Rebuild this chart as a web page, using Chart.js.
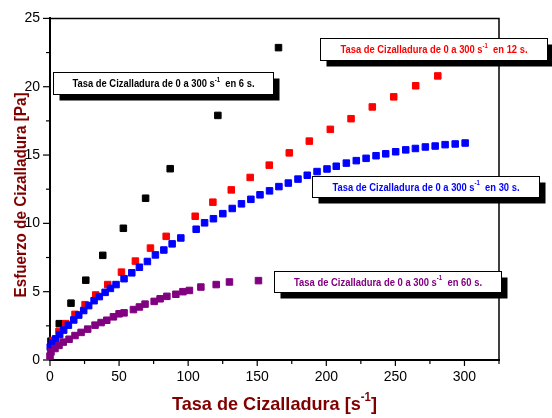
<!DOCTYPE html>
<html>
<head>
<meta charset="utf-8">
<script src="https://cdn.jsdelivr.net/npm/chart.js@4.4.1/dist/chart.umd.min.js"></script>
<style>
  html, body { margin: 0; padding: 0; background: #fff; }
  canvas { display: block; }
</style>
</head>
<body>
<canvas id="myChart" width="552" height="418"></canvas>
<script>
// ==========================================================
// 1. DATA
// ==========================================================
const xTickLabels = [0, 50, 100, 150, 200, 250, 300];
const yTickLabels = [0, 5, 10, 15, 20, 25];

// rampa de 0 a 300 s-1 en 6 s
const ramp6sX = [0.7, 6.7, 15.2, 25.9, 38.2, 53.1, 69.2, 87.0, 121.5, 165.4];
const ramp6sY = [1.38, 2.66, 4.16, 5.84, 7.66, 9.64, 11.84, 14.0, 17.9, 22.86];

// rampa en 12 s
const ramp12sX = [0.5, 2.2, 6.5, 11.4, 18.1, 25.4, 33.1, 41.8, 51.7, 61.8, 72.7, 84.1, 105.1,
  117.9, 131.2, 144.9, 158.7, 173.2, 187.7, 202.9, 217.9, 233.3, 248.8, 264.7, 280.7];
const ramp12sY = [0.9, 1.43, 2.09, 2.66, 3.34, 4.05, 4.76, 5.52, 6.43, 7.24, 8.19, 9.05, 10.52,
  11.55, 12.45, 13.36, 14.26, 15.16, 16.02, 16.88, 17.66, 18.52, 19.26, 20.07, 20.79];

// rampa en 30 s
const ramp30sX = [0.2, 1.7, 4.1, 7.0, 9.9, 13.3, 17.2, 20.8, 24.4, 28.0, 31.9, 35.7, 39.9, 43.7,
  47.8, 53.6, 59.2, 64.7, 70.5, 76.3, 82.4, 88.4, 94.7, 105.8, 111.9, 118.3, 125.1, 131.9,
  138.6, 145.4, 152.0, 158.9, 165.7, 172.5, 179.5, 186.2, 193.3, 200.5, 207.2, 214.5, 221.7,
  228.8, 236.0, 243.0, 250.2, 257.5, 264.5, 271.7, 278.8, 286.0, 293.3, 300.5];
const ramp30sY = [0.95, 1.24, 1.55, 1.86, 2.19, 2.55, 2.93, 3.29, 3.62, 3.98, 4.34, 4.64, 4.95,
  5.24, 5.52, 5.95, 6.38, 6.79, 7.21, 7.69, 8.05, 8.5, 8.93, 9.57, 10.04, 10.34, 10.71, 11.09,
  11.43, 11.76, 12.09, 12.38, 12.69, 12.95, 13.24, 13.52, 13.79, 13.98, 14.18, 14.41, 14.59,
  14.76, 14.95, 15.09, 15.24, 15.38, 15.48, 15.59, 15.66, 15.76, 15.81, 15.88];

// rampa en 60 s
const ramp60sX = [0, 0.7, 3.6, 6.5, 9.6, 13.8, 18.1, 22.5, 27.3, 32.6, 37.0, 41.1, 45.9, 50.0,
  53.6, 60.4, 64.7, 68.8, 75.4, 79.7, 84.6, 91.1, 96.2, 100.9, 109.2, 120.3, 129.9, 150.9];
const ramp60sY = [0.29, 0.59, 0.84, 1.07, 1.31, 1.52, 1.79, 2.02, 2.26, 2.55, 2.74, 2.91, 3.16,
  3.38, 3.45, 3.69, 3.88, 4.09, 4.29, 4.48, 4.66, 4.81, 5.0, 5.09, 5.34, 5.52, 5.71, 5.81];

const rampTimes = ['6', '12', '30', '60'];

// ==========================================================
// 2. HELPERS
// ==========================================================
const FONT = '"Liberation Sans", Arial, sans-serif';
const TITLE_RED = '#800000';

function toPoints(xs, ys) {
  return xs.map((x, i) => ({ x: x, y: ys[i] }));
}

// texto con superindice, comprimido horizontalmente a un ancho dado
function drawRichText(ctx, parts, cx, cy, targetW, color) {
  ctx.save();
  ctx.fillStyle = color;
  ctx.textBaseline = 'middle';
  ctx.textAlign = 'left';
  let total = 0;
  parts.forEach(p => { ctx.font = p.font; p.w = ctx.measureText(p.text).width; total += p.w; });
  ctx.translate(cx, cy);
  ctx.scale(targetW / total, 1);
  let x = -total / 2;
  parts.forEach(p => {
    ctx.font = p.font;
    ctx.fillText(p.text, x, p.rise || 0);
    x += p.w;
  });
  ctx.restore();
}

function boxParts(time) {
  return [
    { text: 'Tasa de Cizalladura de 0 a 300 s', font: 'bold 11px ' + FONT },
    { text: '-1', font: 'bold 7px ' + FONT, rise: -4 },
    { text: '  en ' + time + ' s.', font: 'bold 11px ' + FONT }
  ];
}

// ==========================================================
// 3. PLUGINS (marco, marcas de ejes, titulos, cuadros)
// ==========================================================
const framePlugin = {
  id: 'frame',
  beforeDatasetsDraw(chart) {
    const { ctx, chartArea: a, scales: { x, y } } = chart;
    ctx.save();
    ctx.strokeStyle = '#000';
    ctx.lineWidth = 1.5;
    ctx.beginPath();
    ctx.moveTo(a.left, a.top);
    ctx.lineTo(a.right, a.top);
    ctx.lineTo(a.right, a.bottom);
    ctx.stroke();

    ctx.lineWidth = 1.2;
    x.ticks.forEach(t => {
      const px = x.getPixelForValue(t.value);
      const len = xTickLabels.includes(t.value) ? 6 : 4;
      ctx.beginPath();
      ctx.moveTo(px, a.bottom);
      ctx.lineTo(px, a.bottom + len);
      ctx.stroke();
    });
    y.ticks.forEach(t => {
      const py = y.getPixelForValue(t.value);
      const len = yTickLabels.includes(t.value) ? 7 : 4;
      ctx.beginPath();
      ctx.moveTo(a.left, py);
      ctx.lineTo(a.left - len, py);
      ctx.stroke();
    });
    ctx.restore();

    // titulos de ejes
    drawRichText(ctx, [
      { text: 'Tasa de Cizalladura [s', font: 'bold 19px ' + FONT },
      { text: '-1', font: 'bold 12px ' + FONT, rise: -7 },
      { text: ']', font: 'bold 19px ' + FONT }
    ], (a.left + a.right) / 2, 405, 205, TITLE_RED);

    ctx.save();
    ctx.translate(21, 195);
    ctx.rotate(-Math.PI / 2);
    drawRichText(ctx, [
      { text: 'Esfuerzo de Cizalladura [Pa]', font: 'bold 17px ' + FONT }
    ], 0, 0, 205, TITLE_RED);
    ctx.restore();
  }
};

const boxesPlugin = {
  id: 'boxes',
  afterDatasetsDraw(chart, args, opts) {
    const { ctx, scales: { x, y } } = chart;
    opts.boxes.forEach((b, i) => {
      const l = Math.round(x.getPixelForValue(b.x0)) + 0.5;
      const r = Math.round(x.getPixelForValue(b.x1)) + 0.5;
      const t = Math.round(y.getPixelForValue(b.y0)) + 0.5;
      const bt = Math.round(y.getPixelForValue(b.y1)) + 0.5;
      ctx.save();
      ctx.fillStyle = '#000';
      ctx.fillRect(l + 6, t + 6, r - l, bt - t);
      ctx.fillStyle = '#fff';
      ctx.fillRect(l, t, r - l, bt - t);
      ctx.strokeStyle = '#000';
      ctx.lineWidth = 1;
      ctx.strokeRect(l, t, r - l, bt - t);
      ctx.restore();
      drawRichText(ctx, boxParts(rampTimes[i]), (l + r) / 2, (t + bt) / 2 + 0.5, b.textW, b.color);
    });
  }
};

// ==========================================================
// 4. CHART
// ==========================================================
function series(xs, ys, color) {
  return {
    data: toPoints(xs, ys),
    showLine: false,
    pointStyle: 'rect',
    pointRadius: 4.6,
    pointBorderWidth: 1,
    backgroundColor: color,
    borderColor: color,
    clip: false
  };
}

const ctx = document.getElementById('myChart').getContext('2d');

new Chart(ctx, {
  type: 'scatter',
  data: {
    // el primer dataset se dibuja encima
    datasets: [
      series(ramp60sX, ramp60sY, '#800080'),
      series(ramp30sX, ramp30sY, '#0000ff'),
      series(ramp12sX, ramp12sY, '#ff0000'),
      series(ramp6sX, ramp6sY, '#000000')
    ]
  },
  options: {
    responsive: false,
    animation: false,
    layout: { padding: { left: 0, right: 53, top: 10, bottom: 0 } },
    plugins: {
      legend: { display: false },
      tooltip: { enabled: false },
      boxes: {
        boxes: [
          { x0: 2.2, x1: 161.6, y0: 21.07, y1: 19.5, textW: 182, color: '#000000' },
          { x0: 195.1, x1: 359.9, y0: 23.55, y1: 21.98, textW: 187, color: '#ff0000' },
          { x0: 189.6, x1: 353.8, y0: 13.45, y1: 11.9, textW: 187, color: '#0000ff' },
          { x0: 161.8, x1: 326.8, y0: 6.48, y1: 4.95, textW: 188, color: '#800080' }
        ]
      }
    },
    scales: {
      x: {
        type: 'linear',
        min: 0,
        max: 325,
        afterFit(s) { s.height = 58; },
        ticks: {
          stepSize: 25,
          autoSkip: false,
          maxRotation: 0,
          padding: 9,
          color: '#000',
          font: { family: FONT, size: 14 },
          callback: v => xTickLabels.includes(v) ? v : ''
        },
        grid: { drawOnChartArea: false, drawTicks: false },
        border: { color: '#000', width: 2 }
      },
      y: {
        min: 0,
        max: 25,
        afterFit(s) { s.width = 50; },
        ticks: {
          stepSize: 2.5,
          autoSkip: false,
          padding: 10,
          color: '#000',
          font: { family: FONT, size: 14 },
          callback: v => yTickLabels.includes(v) ? v : ''
        },
        grid: { drawOnChartArea: false, drawTicks: false },
        border: { color: '#000', width: 2 }
      }
    }
  },
  plugins: [framePlugin, boxesPlugin]
});
</script>
</body>
</html>
